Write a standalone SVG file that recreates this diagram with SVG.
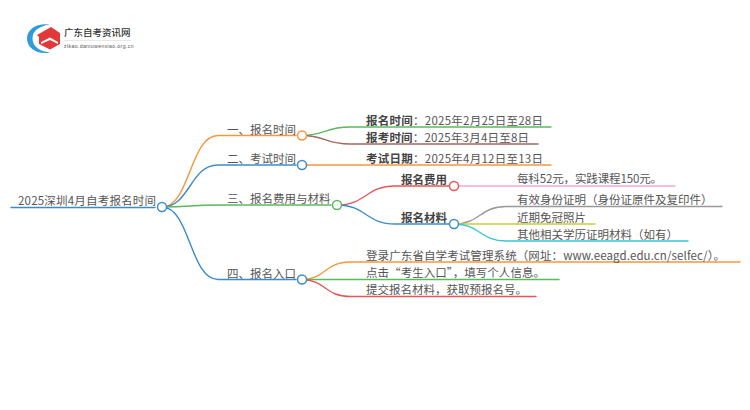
<svg xmlns="http://www.w3.org/2000/svg" width="750" height="410" viewBox="0 0 750 410">
<style>
text{font-family:"Noto Sans CJK SC","Liberation Sans",sans-serif;font-size:11.500px;fill:#555}
.b{font-weight:700;fill:#444}
.c{fill:none;stroke-width:1.400;stroke-linecap:round}
.n{fill:#fff;stroke-width:1.500}
.lt{font-size:9.500px;fill:#333}
</style>
<rect width="750" height="410" fill="#fff"/>
<g id="logo">
<path d="M50 24.500C37 22.500 27 29 27 38.500C27 48 37 55 50 52.500C41 52 32.500 47 32.500 38.500C32.500 30 41 25.500 50 24.500Z" fill="#2f9bd8"/>
<path d="M37 35L51 27L60 33V44L50 49.500L39 44V37Z" fill="#e2383a"/>
<path d="M41 42L50 37.500L58 42V44L50 40L41 44Z" fill="#fff"/>
<text class="lt" x="64" y="35.500" style="font-weight:500">广东自考资讯网</text>
<rect x="64" y="40" width="67" height="0.700" fill="#ddd"/>
<text x="64" y="48" style="font-size:5.200px;font-family:'Liberation Sans',sans-serif;fill:#555;letter-spacing:.35px">zikao.daniuwenxiao.org.cn</text>
</g>
<g id="connectors">
<path class="c" stroke="#3d8bc9" d="M11 207.500H155"/>
<path class="c" stroke="#f7963c" d="M162 207C190 207 190 135.500 218 135.500H296"/>
<path class="c" stroke="#3d8bc9" d="M162 207C190 207 190 165 218 165H296"/>
<path class="c" stroke="#5cb85c" d="M162 207C190 207 190 205 218 205H331"/>
<path class="c" stroke="#3d8bc9" d="M162 207C190 207 190 279.500 218 279.500H296"/>
<path class="c" stroke="#5cb85c" d="M302 135.500C325 135.500 325 127 350 127H551"/>
<path class="c" stroke="#a5675f" d="M302 135.500C325 135.500 325 144 350 144H538"/>
<path class="c" stroke="#f7963c" d="M302 165H551"/>
<path class="c" stroke="#e5565a" d="M337 205C366 205 366 186 395 186H449"/>
<path class="c" stroke="#3d8bc9" d="M337 205C366 205 366 224 395 224H449"/>
<path class="c" stroke="#f4a6dd" d="M454 186H675"/>
<path class="c" stroke="#999" d="M454 224C480 224 480 206.500 506 206.500H722"/>
<path class="c" stroke="#c9cc3f" d="M454 224H595"/>
<path class="c" stroke="#35c6d8" d="M454 224C480 224 480 241 506 241H688"/>
<path class="c" stroke="#f7963c" d="M302 279.500C325 279.500 325 262 350 262H740"/>
<path class="c" stroke="#5cb85c" d="M302 279.500H559"/>
<path class="c" stroke="#e5565a" d="M302 279.500C325 279.500 325 296.500 350 296.500H536"/>
</g>
<g id="root"><text x="18" y="205" textLength="138">2025深圳4月自考报名时间</text><circle class="n" stroke="#3d8bc9" cx="162" cy="207" r="4.500"/></g>
<g id="n1"><text x="227" y="134">一、报名时间</text><circle class="n" stroke="#f7963c" cx="302" cy="135.500" r="4.500"/></g>
<g id="n2"><text x="227" y="163">二、考试时间</text><circle class="n" stroke="#3d8bc9" cx="302" cy="165" r="4.500"/></g>
<g id="n3"><text x="227" y="202.500">三、报名费用与材料</text><circle class="n" stroke="#5cb85c" cx="337" cy="205" r="4.500"/></g>
<g id="n4"><text x="227" y="278">四、报名入口</text><circle class="n" stroke="#3d8bc9" cx="302" cy="279.500" r="4.500"/></g>
<g id="n11"><text x="366" y="124.500" textLength="177"><tspan class="b">报名时间</tspan>&#xFF1A;2025年2月25日至28日</text></g>
<g id="n12"><text x="366" y="142" textLength="163"><tspan class="b">报考时间</tspan>&#xFF1A;2025年3月4日至8日</text></g>
<g id="n21"><text x="366" y="163" textLength="177"><tspan class="b">考试日期</tspan>&#xFF1A;2025年4月12日至13日</text></g>
<g id="n31"><text class="b" x="401" y="183.500">报名费用</text><circle class="n" stroke="#e5565a" cx="454" cy="186" r="4.500"/></g>
<g id="n32"><text class="b" x="401" y="221.500">报名材料</text><circle class="n" stroke="#3d8bc9" cx="454" cy="224" r="4.500"/></g>
<g id="n311"><text x="517" y="183" textLength="145">每科52元&#xFF0C;实践课程150元。</text></g>
<g id="n321"><text x="517" y="204">有效身份证明&#xFF08;身份证原件及复印件&#xFF09;</text></g>
<g id="n322"><text x="517" y="221.500">近期免冠照片</text></g>
<g id="n323"><text x="517" y="239">其他相关学历证明材料&#xFF08;如有&#xFF09;</text></g>
<g id="n41"><text x="366" y="260" textLength="359">登录广东省自学考试管理系统&#xFF08;网址&#xFF1A;www.eeagd.edu.cn/selfec/&#xFF09;。</text></g>
<g id="n42"><text x="366" y="277" textLength="179">点击&#x201C;考生入口&#x201D;&#xFF0C;填写个人信息。</text></g>
<g id="n43"><text x="366" y="294">提交报名材料&#xFF0C;获取预报名号。</text></g>
</svg>
